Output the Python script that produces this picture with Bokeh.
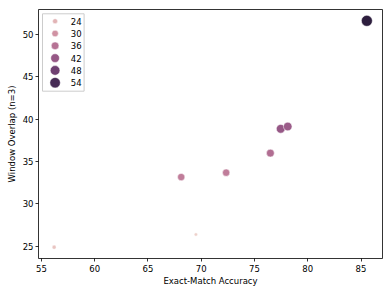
import numpy as np
from bokeh.plotting import figure
from bokeh.models import ColumnDataSource, LinearColorMapper, FixedTicker, Range1d
from bokeh.transform import transform
from bokeh.core.properties import value
from bokeh.embed import file_html
from bokeh.resources import INLINE

# ---- data ----
accuracy = [56.19, 69.5, 68.12, 72.34, 76.49, 77.46, 78.12, 85.55]
overlap = [24.88, 26.38, 33.16, 33.68, 35.99, 38.86, 39.13, 51.61]
hue_vals = [21, 19, 34, 34, 37, 42, 41, 58]
legend_levels = [24, 30, 36, 42, 48, 54]
x_ticks = [55, 60, 65, 70, 75, 80, 85]
y_ticks = [25, 30, 35, 40, 45, 50]

FONT = "DejaVu Sans"
FS = "8.5px"
FRAME_W, FRAME_H = 344, 249


def cubehelix_hex(n=256, start=0.0, rot=0.4, gamma=1.0, hue=0.8, light=0.85, dark=0.15):
    out = []
    for x in np.linspace(light, dark, n):
        xg = x ** gamma
        a = hue * xg * (1 - xg) / 2
        phi = 2 * np.pi * (start / 3 + rot * x)
        c, s = np.cos(phi), np.sin(phi)
        r = xg + a * (-0.14861 * c + 1.78277 * s)
        g = xg + a * (-0.29227 * c - 0.90649 * s)
        b = xg + a * (1.97294 * c)
        rgb = [int(round(255 * min(1, max(0, v)))) for v in (r, g, b)]
        out.append("#%02x%02x%02x" % tuple(rgb))
    return out


vmin, vmax = min(hue_vals), max(hue_vals)
DMIN, DMAX = 3.4, 11.0


def size_of(v):
    return np.sqrt(DMIN ** 2 + (DMAX ** 2 - DMIN ** 2) * (v - vmin) / (vmax - vmin))


mapper = LinearColorMapper(palette=cubehelix_hex(), low=vmin, high=vmax)

# ranges with 5% padding
xmin, xmax = min(accuracy), max(accuracy)
ymin, ymax = min(overlap), max(overlap)
xpad, ypad = 0.05 * (xmax - xmin), 0.05 * (ymax - ymin)
x0, x1 = xmin - xpad, xmax + xpad
y0, y1 = ymin - ypad, ymax + ypad

p = figure(width=392, height=294, output_backend="svg", toolbar_location=None,
           x_range=Range1d(x0, x1), y_range=Range1d(y0, y1),
           min_border_left=38, min_border_right=10, min_border_top=9, min_border_bottom=36)
p.background_fill_color = "white"
p.border_fill_color = "white"
p.outline_line_color = "black"
p.outline_line_width = 0.8
p.xgrid.visible = False
p.ygrid.visible = False

src = ColumnDataSource(dict(x=accuracy, y=overlap, h=hue_vals,
                            s=[size_of(v) for v in hue_vals]))
p.scatter("x", "y", source=src, size="s", fill_color=transform("h", mapper),
          line_color="white", line_width=0.5)

for ax in (p.xaxis[0], p.yaxis[0]):
    ax.axis_line_color = None
    ax.major_tick_in = 0
    ax.major_tick_out = 3
    ax.major_tick_line_color = "black"
    ax.major_tick_line_width = 0.8
    ax.minor_tick_line_color = None
    ax.major_label_text_font = FONT
    ax.major_label_text_font_size = FS
    ax.major_label_text_color = "black"
    ax.major_label_text_line_height = 1.0
    ax.axis_label_text_font = FONT
    ax.axis_label_text_font_size = FS
    ax.axis_label_text_font_style = "normal"
    ax.axis_label_text_color = "black"
    ax.axis_label_text_line_height = 1.0

p.xaxis.major_label_standoff = 3
p.yaxis.major_label_standoff = 2
p.xaxis.axis_label_standoff = 1
p.yaxis.axis_label_standoff = 3

p.xaxis.ticker = FixedTicker(ticks=x_ticks)
p.yaxis.ticker = FixedTicker(ticks=y_ticks)
p.xaxis.axis_label = "Exact-Match Accuracy"
p.yaxis.axis_label = "Window Overlap (n=3)"


# ---- manual legend (positions from frame pixels) ----
def dx(px):
    return x0 + px / FRAME_W * (x1 - x0)


def dy(py):
    return y1 - py / FRAME_H * (y1 - y0)


box = p.quad(left=[dx(4)], right=[dx(45.6)], top=[dy(4.3)], bottom=[dy(81.7)],
             fill_color="white", fill_alpha=0.8, line_color="#cccccc", line_width=1)
box.level = "annotation"
rows = [11.7 + 12.3 * i for i in range(len(legend_levels))]
leg = ColumnDataSource(dict(x=[dx(16.6)] * len(legend_levels), y=[dy(r) for r in rows],
                            tx=[dx(32.3)] * len(legend_levels),
                            h=legend_levels, s=[size_of(v) for v in legend_levels],
                            t=[str(v) for v in legend_levels]))
r1 = p.scatter("x", "y", source=leg, size="s", fill_color=transform("h", mapper),
               line_color="white", line_width=0.5)
r2 = p.text("tx", "y", text="t", source=leg, text_font=value(FONT), text_font_size=FS,
            text_baseline="middle", text_align="left", text_color="black")
r1.level = "overlay"
r2.level = "overlay"

open("out.html", "w").write(file_html(p, INLINE))
